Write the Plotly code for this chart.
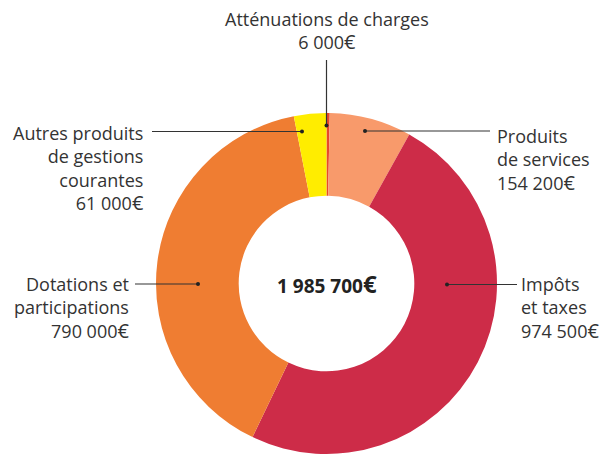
import plotly.graph_objects as go

# ---- data ----
categories = ["Atténuations de charges", "Produits de services", "Impôts et taxes",
              "Dotations et participations", "Autres produits de gestions courantes"]
values = [6000, 154200, 974500, 790000, 61000]
value_labels = ["6 000", "154 200", "974 500", "790 000", "61 000"]
label_lines = [["Atténuations de charges"],
               ["Produits", "de services"],
               ["Impôts", "et taxes"],
               ["Dotations et", "participations"],
               ["Autres produits", "de gestions", "courantes"]]
total_label = "1 985 700"

colors = ["#e8472b", "#f89a6b", "#cd2c48", "#ef7d32", "#ffed00"]

OFF = 8  # page body margin
W, H = 611 - OFF, 456 - OFF
cx, cy, R = 326.5 - OFF, 283.5 - OFF, 170.5

fig = go.Figure()
fig.add_trace(go.Pie(
    labels=categories, values=values, hole=0.515, sort=False,
    direction="clockwise", rotation=0,
    marker=dict(colors=colors, line=dict(width=0)),
    textinfo="none", hoverinfo="label+value", showlegend=False,
    domain=dict(x=[(cx - R) / W, (cx + R) / W], y=[max(0, 1 - (cy + R) / H), 1 - (cy - R) / H]),
))

# invisible pixel-space axes for leader lines and labels (reference-page pixels)
fig.update_xaxes(range=[OFF, OFF + W], visible=False, fixedrange=True)
fig.update_yaxes(range=[OFF + H, OFF], visible=False, fixedrange=True)

TXT = "#333333"
FONT = "Open Sans"
FS = 18

# label layout: (dot x, dot y, line end x, line end y, text x, text y, xanchor)
layout_pos = [
    (326.5, 125.5, 326.5, 60, 326.5, 31, "center"),
    (365, 131, 490, 131, 495, 159.5, "left"),
    (447, 284.5, 517, 284.5, 519, 307.5, "left"),
    (198, 284, 135, 284, 131, 307.5, "right"),
    (302, 131.5, 152, 131.5, 146, 168.5, "right"),
]

shapes = []
annotations = []
for i, (dx, dy, lx, ly, tx, ty, anc) in enumerate(layout_pos):
    shapes.append(dict(type="line", xref="x", yref="y", x0=dx, y0=dy, x1=lx, y1=ly,
                       line=dict(color="#333333", width=1.2)))
    shapes.append(dict(type="circle", xref="x", yref="y", x0=dx - 2, y0=dy - 2, x1=dx + 2, y1=dy + 2,
                       fillcolor="#222222", line=dict(width=0)))
    lines = label_lines[i] + [value_labels[i] + "<span style='font-size:20px'>€</span>"]
    annotations.append(dict(
        x=tx, y=ty, xref="x", yref="y", text="<br>".join(lines), showarrow=False,
        xanchor=anc, yanchor="middle", align=anc,
        font=dict(family=FONT, size=FS, color=TXT)))

annotations.append(dict(
    x=cx + OFF, y=cy + OFF, xref="x", yref="y", showarrow=False, xanchor="center", yanchor="middle",
    text="<b>" + total_label + "<span style='font-size:24px'>€</span></b>",
    font=dict(family=FONT, size=19, color="#222222")))

fig.update_layout(
    width=W, height=H, margin=dict(l=0, r=0, t=0, b=0),
    paper_bgcolor="white", plot_bgcolor="rgba(0,0,0,0)",
    shapes=shapes, annotations=annotations,
)

fig.write_html("out.html")
